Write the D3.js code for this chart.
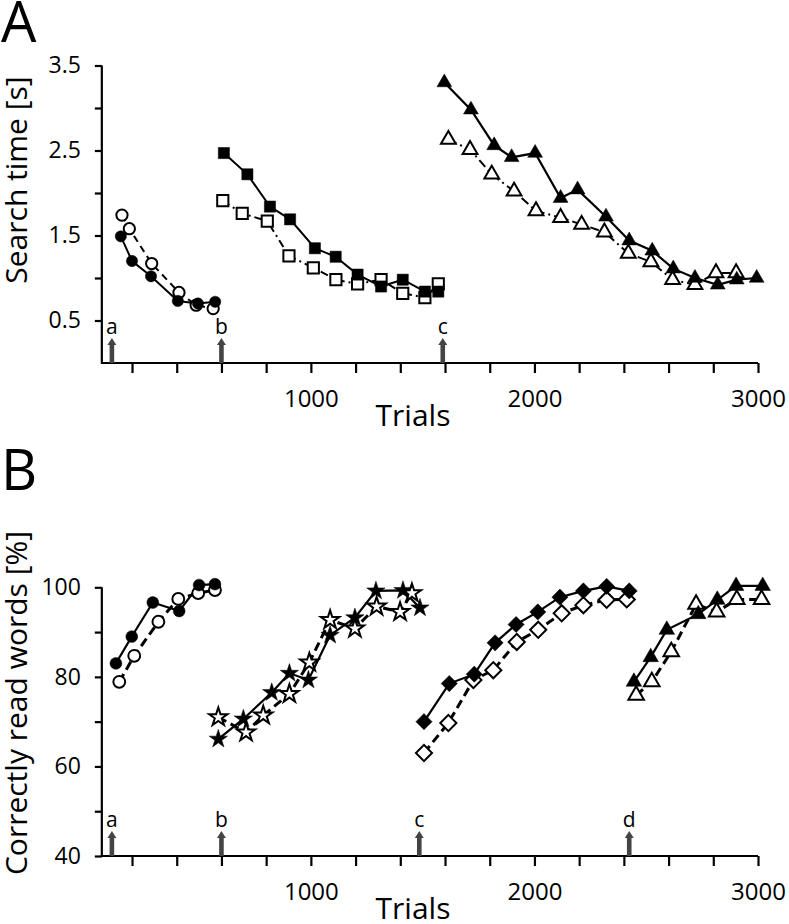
<!DOCTYPE html>
<html><head><meta charset="utf-8">
<script src="https://cdn.jsdelivr.net/npm/d3@7"></script>
<style>body{margin:0;background:#fff}svg{display:block}text{font-family:"Open Sans",sans-serif;fill:#000}</style>
</head><body><svg id="c" width="789" height="924"></svg>
<script>
// ---------- DATA ----------
// Panel A: search time [s] vs trials
const A_circFilledT = [150, 200, 285, 405, 495, 572];
const A_circFilledV = [1.49, 1.20, 1.02, 0.73, 0.70, 0.72];
const A_circOpenT = [155, 188, 288, 410, 487, 563];
const A_circOpenV = [1.74, 1.58, 1.17, 0.83, 0.68, 0.64];
const A_sqFilledT = [611, 716, 817, 907, 1018, 1111, 1209, 1314, 1411, 1510, 1570];
const A_sqFilledV = [2.47, 2.22, 1.84, 1.69, 1.35, 1.25, 1.04, 0.90, 0.98, 0.84, 0.84];
const A_sqOpenT = [606, 693, 805, 902, 1011, 1112, 1209, 1314, 1411, 1510, 1570];
const A_sqOpenV = [1.91, 1.76, 1.67, 1.26, 1.12, 0.98, 0.93, 0.98, 0.82, 0.77, 0.93];
const A_triFilledT = [1597, 1716, 1820, 1898, 2003, 2117, 2193, 2320, 2424, 2527, 2621, 2718, 2820, 2905, 2994];
const A_triFilledV = [3.30, 2.98, 2.56, 2.42, 2.47, 1.94, 2.04, 1.72, 1.44, 1.32, 1.11, 1.00, 0.92, 0.98, 1.00];
const A_triOpenT = [1615, 1712, 1809, 1909, 2007, 2117, 2211, 2313, 2420, 2521, 2618, 2718, 2812, 2902];
const A_triOpenV = [2.63, 2.51, 2.22, 2.02, 1.79, 1.71, 1.63, 1.54, 1.29, 1.19, 0.98, 0.92, 1.06, 1.06];
const A_arrowT = [110, 600, 1590];
const A_arrowL = ["a", "b", "c"];
const A_yTicks = [0.5, 1.0, 1.5, 2.0, 2.5, 3.0, 3.5];
const A_yLabels = ["0.5", "", "1.5", "", "2.5", "", "3.5"];

// Panel B: correctly read words [%] vs trials
const B_circFilledT = [128, 199, 293, 411, 500, 571];
const B_circFilledV = [83.0, 89.0, 96.6, 94.7, 100.5, 100.7];
const B_circOpenT = [143, 210, 318, 407, 496, 571];
const B_circOpenV = [78.9, 84.7, 92.3, 97.4, 98.7, 99.4];
const B_starFilledT = [586, 698, 825, 904, 989, 1086, 1197, 1291, 1412, 1488];
const B_starFilledV = [66.1, 70.6, 76.5, 80.8, 79.3, 89.3, 93.2, 99.2, 99.3, 95.4];
const B_starOpenT = [586, 710, 787, 904, 993, 1086, 1197, 1294, 1399, 1452];
const B_starOpenV = [71.0, 67.6, 71.4, 76.2, 83.2, 92.7, 90.8, 95.7, 94.5, 98.7];
const B_diaFilledT = [1506, 1619, 1731, 1824, 1918, 2015, 2114, 2219, 2323, 2424];
const B_diaFilledV = [70.0, 78.5, 80.6, 87.6, 91.7, 94.5, 97.8, 99.2, 100.2, 99.2];
const B_diaOpenT = [1506, 1615, 1727, 1816, 1921, 2017, 2122, 2219, 2323, 2413];
const B_diaOpenV = [63.0, 69.7, 79.3, 81.5, 87.8, 90.5, 94.2, 96.0, 97.2, 97.3];
const B_triFilledT = [2445, 2520, 2592, 2733, 2818, 2902, 3021];
const B_triFilledV = [78.9, 84.4, 90.5, 94.0, 97.2, 100.3, 100.3];
const B_triOpenT = [2455, 2525, 2612, 2723, 2815, 2905, 3016];
const B_triOpenV = [75.9, 78.9, 85.6, 96.2, 94.5, 97.3, 97.3];
const B_arrowT = [110, 600, 1485, 2424];
const B_arrowL = ["a", "b", "c", "d"];
const B_yTicks = [40, 50, 60, 70, 80, 90, 100];
const B_yLabels = ["40", "", "60", "", "80", "", "100"];

const xTicks = d3.range(200, 3001, 200);
const xLabel = t => (t % 1000 === 0 ? String(t) : "");

// ---------- DRAW ----------
const svg = d3.select("#c");
const x = d3.scaleLinear().domain([0, 3000]).range([87.3, 758]);
const xStart = 65;

function zip(T, V) { return T.map((t, i) => [t, V[i]]); }

const shapes = {
  circle: d3.symbol().type(d3.symbolCircle).size(100),
  circleB: d3.symbol().type(d3.symbolCircle).size(110),
  square: d3.symbol().type(d3.symbolSquare).size(125),
  tri: d3.symbol().type(d3.symbolTriangle).size(95),
  triB: d3.symbol().type(d3.symbolTriangle).size(105),
  star: d3.symbol().type(d3.symbolStar).size(105),
  dia: d3.symbol().type(d3.symbolSquare).size(130)
};

function panel(cfg) {
  const g = svg.append("g");
  const y = d3.scaleLinear().domain(cfg.yDomain).range(cfg.yRange);
  const y0 = cfg.yRange[0];
  // axis lines
  g.append("line").attr("x1", x(xStart)).attr("x2", x(3000)).attr("y1", y0).attr("y2", y0)
    .attr("stroke", "#000").attr("stroke-width", 2.2);
  g.append("line").attr("x1", x(xStart)).attr("x2", x(xStart)).attr("y1", y0 + 1).attr("y2", cfg.yRange[1])
    .attr("stroke", "#000").attr("stroke-width", 2.2);
  // x ticks
  const xa = d3.axisBottom(x).tickValues(xTicks).tickSize(10).tickFormat(xLabel).tickPadding(17);
  const xg = g.append("g").attr("transform", `translate(0,${y0})`).call(xa);
  xg.select(".domain").remove();
  xg.selectAll(".tick line").attr("stroke", "#000").attr("stroke-width", 2.2);
  xg.selectAll(".tick text").attr("font-size", 24).attr("font-family", "Open Sans").attr("fill", "#000");
  // y ticks
  const ya = d3.axisLeft(y).tickValues(cfg.yTicks).tickSize(7).tickPadding(14)
    .tickFormat((d, i) => cfg.yLabels[i]);
  const yg = g.append("g").attr("transform", `translate(${x(xStart)},0)`).call(ya);
  yg.select(".domain").remove();
  yg.selectAll(".tick line").attr("stroke", "#000").attr("stroke-width", 2.2);
  yg.selectAll(".tick text").attr("font-size", 23).attr("font-family", "Open Sans").attr("fill", "#000");
  // titles
  g.append("text").attr("x", 413).attr("y", y0 + 63).attr("text-anchor", "middle")
    .attr("font-size", 30).text("Trials");
  g.append("text").attr("transform", `translate(27,${cfg.titleY}) rotate(-90)`)
    .attr("text-anchor", "middle").attr("font-size", 30).text(cfg.yTitle);
  g.append("text").attr("x", 1).attr("y", cfg.letterY).attr("font-size", 56).text(cfg.letter);
  // arrows
  cfg.arrowT.forEach((t, i) => {
    const ax = x(t);
    g.append("rect").attr("x", ax - 2.3).attr("y", y0 - 19).attr("width", 4.6).attr("height", 19).attr("fill", "#444");
    g.append("path").attr("d", `M${ax - 4.5},${y0 - 18} L${ax},${y0 - 25} L${ax + 4.5},${y0 - 18} Z`).attr("fill", "#444");
    g.append("text").attr("x", ax).attr("y", y0 - 29).attr("text-anchor", "middle")
      .attr("font-size", 21).text(cfg.arrowL[i]);
  });
  // series
  const line = d3.line().x(d => x(d[0])).y(d => y(d[1]));
  cfg.series.forEach(s => {
    const data = zip(s.t, s.v);
    g.append("path").attr("d", line(data)).attr("fill", "none").attr("stroke", "#000")
      .attr("stroke-width", s.lw).attr("stroke-dasharray", s.dash || null);
  });
  cfg.series.forEach(s => {
    const data = zip(s.t, s.v);
    g.selectAll(null).data(data).enter().append("path")
      .attr("d", shapes[s.shape]())
      .attr("transform", d => `translate(${x(d[0])},${y(d[1])})` + (s.shape === "dia" ? " rotate(45)" : ""))
      .attr("fill", s.open ? "#fff" : "#000")
      .attr("stroke", "#000").attr("stroke-width", s.open ? 2 : 0.5);
  });
}

panel({
  yDomain: [0, 3.5], yRange: [363, 65.5], yTicks: A_yTicks, yLabels: A_yLabels,
  yTitle: "Search time [s]", titleY: 180, letter: "A", letterY: 42,
  arrowT: A_arrowT, arrowL: A_arrowL,
  series: [
    { t: A_circOpenT, v: A_circOpenV, shape: "circle", open: true, lw: 2, dash: "7,5" },
    { t: A_circFilledT, v: A_circFilledV, shape: "circle", open: false, lw: 2 },
    { t: A_sqOpenT, v: A_sqOpenV, shape: "square", open: true, lw: 2, dash: "8,4,2,4" },
    { t: A_sqFilledT, v: A_sqFilledV, shape: "square", open: false, lw: 2 },
    { t: A_triOpenT, v: A_triOpenV, shape: "tri", open: true, lw: 2, dash: "9,4,2,4" },
    { t: A_triFilledT, v: A_triFilledV, shape: "tri", open: false, lw: 2.2 }
  ]
});

panel({
  yDomain: [40, 100], yRange: [856, 587.3], yTicks: B_yTicks, yLabels: B_yLabels,
  yTitle: "Correctly read words [%]", titleY: 703, letter: "B", letterY: 490,
  arrowT: B_arrowT, arrowL: B_arrowL,
  series: [
    { t: B_circOpenT, v: B_circOpenV, shape: "circleB", open: true, lw: 3, dash: "9,5" },
    { t: B_circFilledT, v: B_circFilledV, shape: "circleB", open: false, lw: 2.2 },
    { t: B_starOpenT, v: B_starOpenV, shape: "star", open: true, lw: 3, dash: "9,5" },
    { t: B_starFilledT, v: B_starFilledV, shape: "star", open: false, lw: 2.2 },
    { t: B_diaOpenT, v: B_diaOpenV, shape: "dia", open: true, lw: 3, dash: "9,5" },
    { t: B_diaFilledT, v: B_diaFilledV, shape: "dia", open: false, lw: 2.2 },
    { t: B_triOpenT, v: B_triOpenV, shape: "triB", open: true, lw: 3, dash: "9,5" },
    { t: B_triFilledT, v: B_triFilledV, shape: "triB", open: false, lw: 2.2 }
  ]
});
</script></body></html>
